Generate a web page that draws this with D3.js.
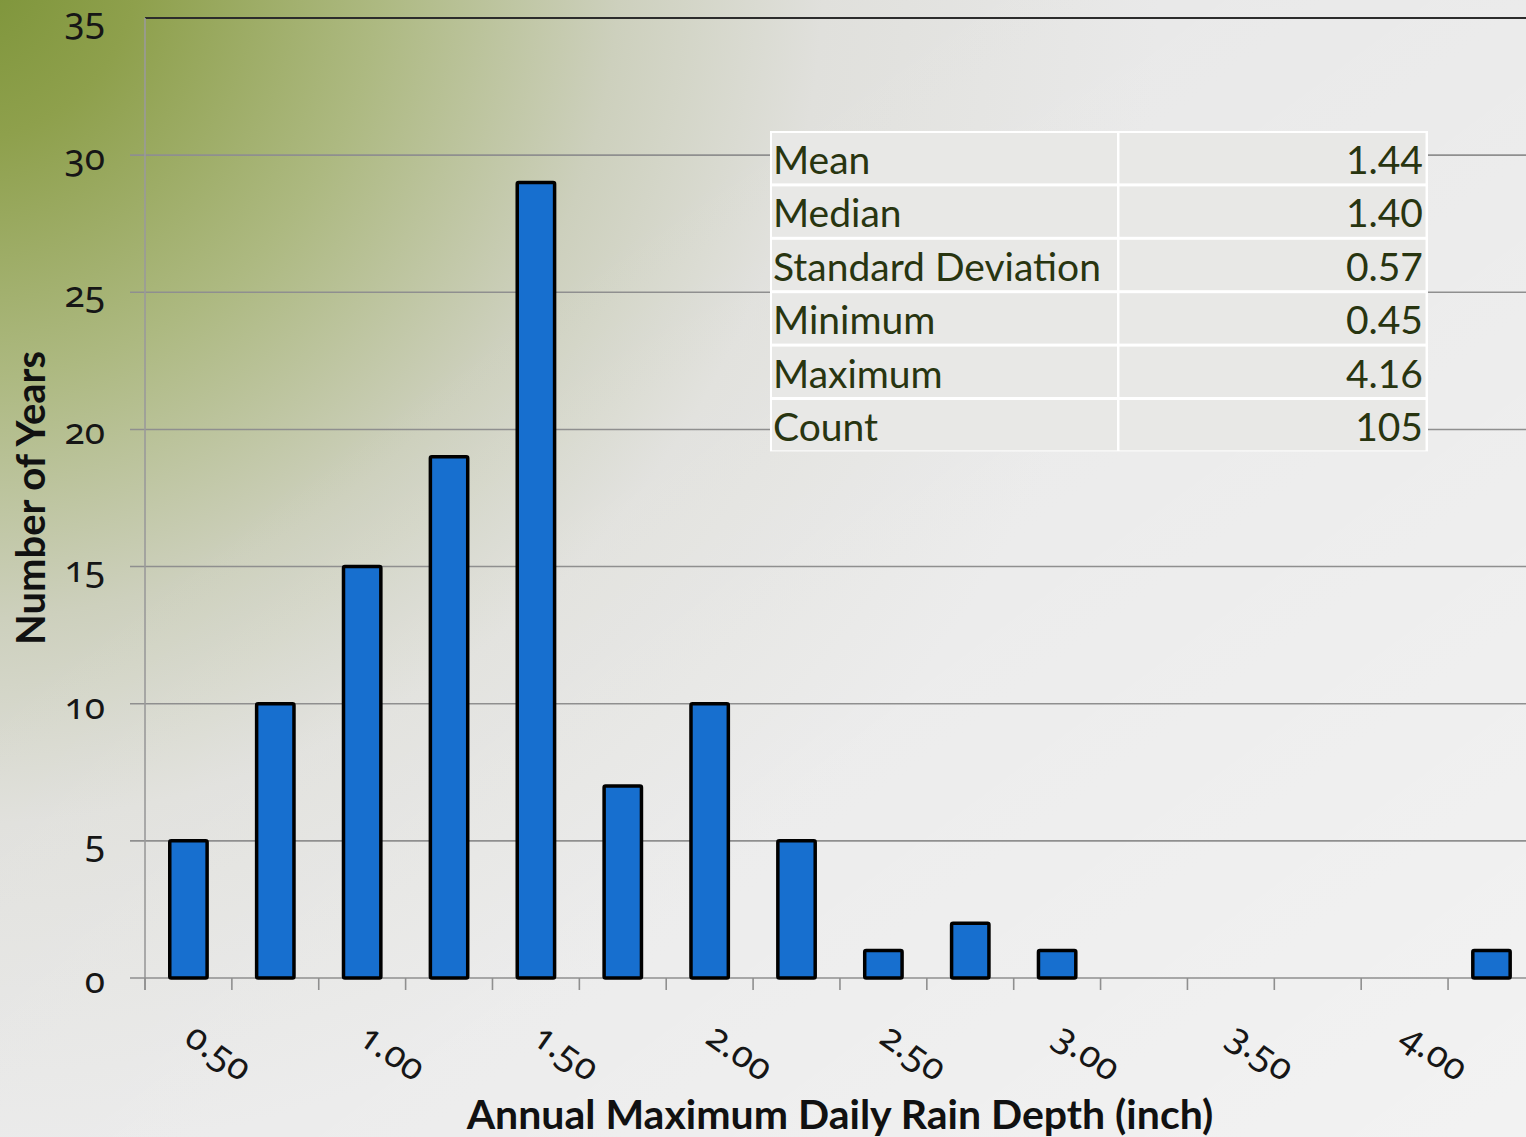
<!DOCTYPE html>
<html>
<head>
<meta charset="utf-8">
<script src="https://cdn.jsdelivr.net/npm/d3@7"></script>
<style>
  html, body { margin: 0; padding: 0; overflow: hidden; }
  svg { display: block; }
  .num { font-family: "Noto Sans", "Open Sans", sans-serif; font-variant-numeric: oldstyle-nums; font-feature-settings: "onum" 1; }
</style>
</head>
<body>
<svg id="chart" width="1526" height="1137"></svg>
<script>
// Histogram bins (lower edge, inch) and number of years in each bin
const bins = ["0.50","0.75","1.00","1.25","1.50","1.75","2.00","2.25","2.50","2.75","3.00","3.25","3.50","3.75","4.00","4.25"];
const counts = [5, 10, 15, 19, 29, 7, 10, 5, 1, 2, 1, 0, 0, 0, 0, 1];
const xTickLabels = ["0.50","1.00","1.50","2.00","2.50","3.00","3.50","4.00"];
const yTicks = [0, 5, 10, 15, 20, 25, 30, 35];

// Summary statistics table
const statLabels = ["Mean","Median","Standard Deviation","Minimum","Maximum","Count"];
const statValues = ["1.44","1.40","0.57","0.45","4.16","105"];

const W = 1526, H = 1137;
const svg = d3.select("#chart");

// background wash: olive green in the upper-left fading to light grey
const defs = svg.append("defs");
const grad = defs.append("radialGradient")
  .attr("id", "bg").attr("gradientUnits", "userSpaceOnUse")
  .attr("cx", -40).attr("cy", -40).attr("r", 1200);
[[0, "#7a9236"], [0.15, "#8ea04c"], [0.35, "#adb981"], [0.55, "#cdd0bd"], [0.72, "#e0e0dc"], [1, "#e8e8e8"]]
  .forEach(([o, c]) => grad.append("stop").attr("offset", o).attr("stop-color", c));
svg.append("rect").attr("width", W).attr("height", H).attr("fill", "url(#bg)");
// slight brightening toward the lower right
const shine = defs.append("linearGradient").attr("id", "shine")
  .attr("x1", 0.3).attr("y1", 0.3).attr("x2", 1).attr("y2", 1);
shine.append("stop").attr("offset", 0).attr("stop-color", "#ffffff").attr("stop-opacity", 0);
shine.append("stop").attr("offset", 1).attr("stop-color", "#ffffff").attr("stop-opacity", 0.45);
svg.append("rect").attr("width", W).attr("height", H).attr("fill", "url(#shine)");

const plotLeft = 145, plotTop = 18, plotBottom = 978;
const step = 86.87;
const x = d3.scaleBand().domain(bins).range([plotLeft, plotLeft + step * bins.length]).paddingInner(0.57).paddingOuter(0.285);
const y = d3.scaleLinear().domain([0, 35]).range([plotBottom, plotTop]);

// horizontal gridlines
svg.append("g").selectAll("line").data(yTicks.filter(d => d > 0 && d < 35)).join("line")
  .attr("x1", 130).attr("x2", W).attr("y1", d => y(d)).attr("y2", d => y(d))
  .attr("stroke", "#8f8f8f").attr("stroke-width", 1.6);
// top border
svg.append("line").attr("x1", plotLeft).attr("x2", W).attr("y1", y(35)).attr("y2", y(35))
  .attr("stroke", "#2c2c2c").attr("stroke-width", 2);
// vertical axis line
svg.append("line").attr("x1", plotLeft).attr("x2", plotLeft).attr("y1", y(35)).attr("y2", plotBottom + 12)
  .attr("stroke", "#9a9a9a").attr("stroke-width", 1.6);
// baseline and ticks at bin boundaries
svg.append("line").attr("x1", 130).attr("x2", W).attr("y1", plotBottom).attr("y2", plotBottom)
  .attr("stroke", "#8f8f8f").attr("stroke-width", 1.6);
svg.append("g").selectAll("line").data(bins).join("line")
  .attr("x1", d => x(d) - x.step() * 0.285).attr("x2", d => x(d) - x.step() * 0.285)
  .attr("y1", plotBottom).attr("y2", plotBottom + 12)
  .attr("stroke", "#8f8f8f").attr("stroke-width", 1.6);

// y tick labels
svg.append("g").selectAll("text").data(yTicks).join("text")
  .attr("class", "num")
  .attr("x", 105).attr("y", d => y(d) + 15)
  .attr("text-anchor", "end").attr("font-size", 37).attr("fill", "#161616")
  .text(d => d);

// x tick labels, rotated
svg.append("g").selectAll("text").data(xTickLabels).join("text")
  .attr("class", "num")
  .attr("transform", d => `translate(${x(d) + x.bandwidth() / 2 - 6},${plotBottom + 64}) rotate(35)`)
  .attr("text-anchor", "start").attr("font-size", 37).attr("fill", "#161616")
  .text(d => d);

// bars
svg.append("g").selectAll("rect").data(bins.map((b, i) => ({ b, v: counts[i] })).filter(d => d.v > 0)).join("rect")
  .attr("x", d => x(d.b)).attr("width", x.bandwidth())
  .attr("y", d => y(d.v)).attr("height", d => y(0) - y(d.v))
  .attr("fill", "#176fcf").attr("stroke", "#000").attr("stroke-width", 3.5)
  .attr("rx", 1.5);

// axis titles
svg.append("text")
  .attr("x", 840).attr("y", 1129).attr("text-anchor", "middle")
  .attr("font-family", "Lato, 'Open Sans', sans-serif").attr("font-weight", 700)
  .attr("font-size", 41).attr("fill", "#111")
  .text("Annual Maximum Daily Rain Depth (inch)");
svg.append("text")
  .attr("transform", "translate(45,498) rotate(-90)").attr("text-anchor", "middle")
  .attr("font-family", "Lato, 'Open Sans', sans-serif").attr("font-weight", 700)
  .attr("font-size", 40).attr("fill", "#111")
  .text("Number of Years");

// statistics table
const tX = 770, tY = 131, tW = 658, colSplit = 348, rowH = 53.4;
const table = svg.append("g");
table.append("rect").attr("x", tX).attr("y", tY).attr("width", tW).attr("height", rowH * statLabels.length)
  .attr("fill", "#ffffff");
const rows = table.selectAll("g").data(statLabels).join("g")
  .attr("transform", (d, i) => `translate(${tX},${tY + i * rowH})`);
rows.append("rect").attr("x", 2).attr("y", 2).attr("width", colSplit - 3).attr("height", rowH - 3)
  .attr("fill", "#e8e8e6");
rows.append("rect").attr("x", colSplit + 1.5).attr("y", 2).attr("width", tW - colSplit - 4).attr("height", rowH - 3)
  .attr("fill", "#e8e8e6");
rows.append("text").attr("x", 3).attr("y", 43)
  .attr("font-family", "Lato, 'Open Sans', sans-serif").attr("font-size", 39).attr("fill", "#283510")
  .text(d => d);
rows.append("text").attr("x", tW - 5).attr("y", 43).attr("text-anchor", "end")
  .attr("font-family", "Lato, 'Open Sans', sans-serif").attr("font-size", 39).attr("fill", "#283510")
  .text((d, i) => statValues[i]);
</script>
</body>
</html>
